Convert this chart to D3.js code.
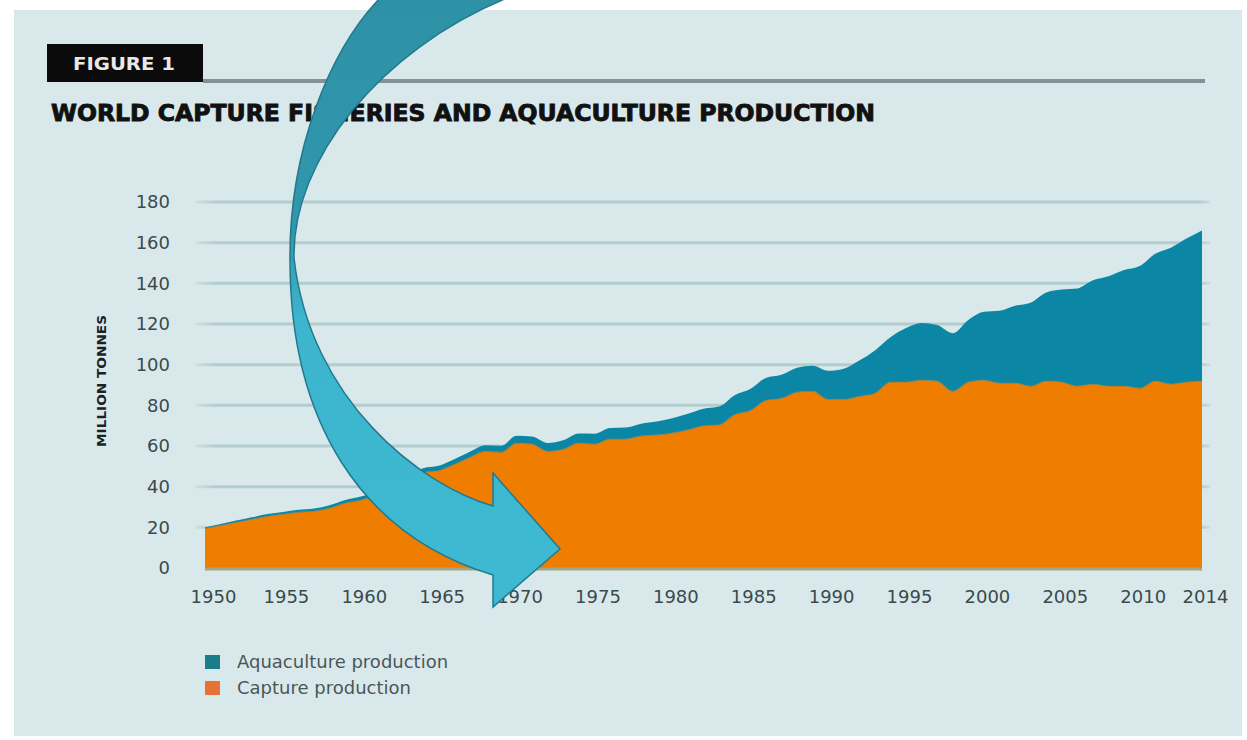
<!DOCTYPE html>
<html><head><meta charset="utf-8">
<script src="https://cdn.jsdelivr.net/npm/d3@7"></script>
<style>body{margin:0;background:#fff}svg{display:block}</style>
</head><body>
<script>
const years = d3.range(1950, 2015);
const capture = [
 19.5,21,22.5,24,25.5, 26.5,27.5,28,29.5,32,
 33.5,36,40,42,47, 48,51,54.5,57.5,57,
 61.5,61,57.5,58.5,61.5, 61,63.5,63.5,65,65.5,
 66.5,68,70,70.5,75.5, 77.5,82.5,83.5,86.5,87,
 83,83,84.5,86,91.5, 91.5,92.5,92,87,91.5,
 92.5,91,91,89.5,92, 91.5,89.5,90.5,89.5,89.5,
 88.5,92,90.5,91.5,92];
const aquaculture = [
 0.6,0.7,0.8,0.9,1.0, 1.1,1.2,1.3,1.4,1.5,
 1.7,1.8,1.9,2.0,2.1, 2.3,2.5,2.7,2.9,3.1,
 3.5,3.7,4.0,4.3,4.6, 5.0,5.3,5.6,6.0,6.5,
 7.2,7.8,8.3,8.9,9.5, 10.5,11,11.5,12,12.5,
 14,15,17.5,21,22, 26.5,28,27.5,28.5,30.5,
 33.5,35.5,38,41,43.5, 45.5,48,51,54,57,
 60,62.5,67,70.5,74];
const yTicks = [0,20,40,60,80,100,120,140,160,180];
const xTicks = [1950,1955,1960,1965,1970,1975,1980,1985,1990,1995,2000,2005,2010,2014];
const seriesNames = ["Aquaculture production","Capture production"];
const seriesColors = ["#0b87a5","#ef7d00"];

const W = 1247, H = 740;
const svg = d3.select("body").append("svg").attr("width", W).attr("height", H);
svg.append("rect").attr("width", W).attr("height", H).attr("fill", "#fff");
svg.append("rect").attr("x", 14).attr("y", 10).attr("width", 1228).attr("height", 726).attr("fill", "#d9e9eb");

// header
svg.append("rect").attr("x", 47).attr("y", 44).attr("width", 156).attr("height", 38).attr("fill", "#0b0b0b");
svg.append("text").attr("x", 124).attr("y", 70).attr("text-anchor", "middle")
  .attr("font-family", "DejaVu Sans").attr("font-weight", "bold").attr("font-size", 17)
  .attr("fill", "#e8e8e8").attr("textLength", 102).attr("lengthAdjust", "spacingAndGlyphs").text("FIGURE 1");
svg.append("rect").attr("x", 203).attr("y", 79).attr("width", 1002).attr("height", 4).attr("fill", "#7f9397");
svg.append("text").attr("x", 51).attr("y", 121)
  .attr("font-family", "DejaVu Sans").attr("font-weight", "900").attr("font-size", 23)
  .attr("fill", "#111").attr("stroke", "#111").attr("stroke-width", 0.9)
  .attr("textLength", 824).attr("lengthAdjust", "spacingAndGlyphs")
  .text("WORLD CAPTURE FISHERIES AND AQUACULTURE PRODUCTION");

// scales
const x = d3.scaleLinear().domain([1950, 2014]).range([205, 1202]);
const y = d3.scaleLinear().domain([0, 180]).range([568, 202]);

// gridlines
const gradG = svg.append("defs");
const gl = gradG.append("linearGradient").attr("id", "gridfade").attr("gradientUnits", "userSpaceOnUse")
  .attr("x1", 195).attr("x2", 1210).attr("y1", 0).attr("y2", 0);
gl.append("stop").attr("offset", 0).attr("stop-color", "#b3cdce").attr("stop-opacity", 0.3);
gl.append("stop").attr("offset", 0.02).attr("stop-color", "#b3cdce").attr("stop-opacity", 1);
gl.append("stop").attr("offset", 0.99).attr("stop-color", "#b3cdce").attr("stop-opacity", 1);
gl.append("stop").attr("offset", 1).attr("stop-color", "#b3cdce").attr("stop-opacity", 0.4);
svg.append("g").selectAll("line").data(yTicks.filter(d => d > 0)).join("line")
  .attr("x1", 195).attr("x2", 1210).attr("y1", d => y(d)).attr("y2", d => y(d))
  .attr("stroke", "url(#gridfade)").attr("stroke-width", 3);

// stacked areas
const rows = years.map((yr, i) => ({year: yr, capture: capture[i], aquaculture: aquaculture[i]}));
const stack = d3.stack().keys(["capture", "aquaculture"]);
const layers = stack(rows);
const area = d3.area().x(d => x(d.data.year)).y0(d => y(d[0])).y1(d => y(d[1])).curve(d3.curveMonotoneX);
svg.append("g").selectAll("path").data(layers).join("path")
  .attr("d", area)
  .attr("fill", (d, i) => i === 0 ? seriesColors[1] : seriesColors[0]);
svg.append("path").datum(layers[0])
  .attr("d", d3.line().x(d => x(d.data.year)).y(d => y(d[1])).curve(d3.curveMonotoneX))
  .attr("fill", "none").attr("stroke", "#4f8078").attr("stroke-width", 1.2).attr("opacity", 0.6);
svg.append("line").attr("x1", x(1950)).attr("x2", x(2014)).attr("y1", 569).attr("y2", 569)
  .attr("stroke", "#9ea882").attr("stroke-width", 3);

// axes
const yAxis = svg.append("g").attr("transform", "translate(170,0)")
  .call(d3.axisLeft(y).tickValues(yTicks).tickSize(0).tickPadding(0));
yAxis.select(".domain").remove();
yAxis.selectAll("text").attr("font-family", "DejaVu Sans").attr("font-size", 18).attr("fill", "#3b4a4c");

const xAxis = svg.append("g").attr("transform", "translate(0,590)")
  .call(d3.axisBottom(x).tickValues(xTicks).tickFormat(d3.format("d")).tickSize(0).tickPadding(0));
xAxis.select(".domain").remove();
xAxis.selectAll("text").attr("font-family", "DejaVu Sans").attr("font-size", 18).attr("fill", "#3b4a4c")
  .attr("dx", (d) => d === 1950 ? 8 : 3);

svg.append("text").attr("transform", "translate(106,381) rotate(-90)").attr("text-anchor", "middle")
  .attr("font-family", "DejaVu Sans").attr("font-weight", "bold").attr("font-size", 12)
  .attr("fill", "#1a2224").attr("textLength", 132).attr("lengthAdjust", "spacingAndGlyphs").text("MILLION TONNES");

// legend
const lg = svg.append("g").selectAll("g").data(seriesNames).join("g")
  .attr("transform", (d, i) => `translate(205,${655 + i * 26})`);
lg.append("rect").attr("width", 15).attr("height", 14).attr("fill", (d, i) => i === 0 ? "#1a7e8a" : "#e67335");
lg.append("text").attr("x", 32).attr("y", 13).attr("font-family", "DejaVu Sans").attr("font-size", 18)
  .attr("fill", "#4a5759").text(d => d);

// curved arrow annotation
const ag = gradG.append("linearGradient").attr("id", "arrowgrad").attr("gradientUnits", "userSpaceOnUse")
  .attr("x1", 0).attr("x2", 0).attr("y1", 0).attr("y2", 610);
ag.append("stop").attr("offset", 0).attr("stop-color", "#2e92a7");
ag.append("stop").attr("offset", 0.38).attr("stop-color", "#3197ac");
ag.append("stop").attr("offset", 0.52).attr("stop-color", "#3cb5cd");
ag.append("stop").attr("offset", 1).attr("stop-color", "#3dbad2");
const arrowPath = "M380,-2 C330,50 289,150 290,260 C290,420 360,535 493,575 L493,607 L560,549 L493,473 L493,506 C420,485 310,400 294,258 C292,160 380,50 507,-2 Z";
svg.append("path").attr("d", arrowPath).attr("fill", "url(#arrowgrad)")
  .attr("stroke", "#23798c").attr("stroke-width", 1.5).attr("stroke-linejoin", "miter");
</script>
</body></html>
